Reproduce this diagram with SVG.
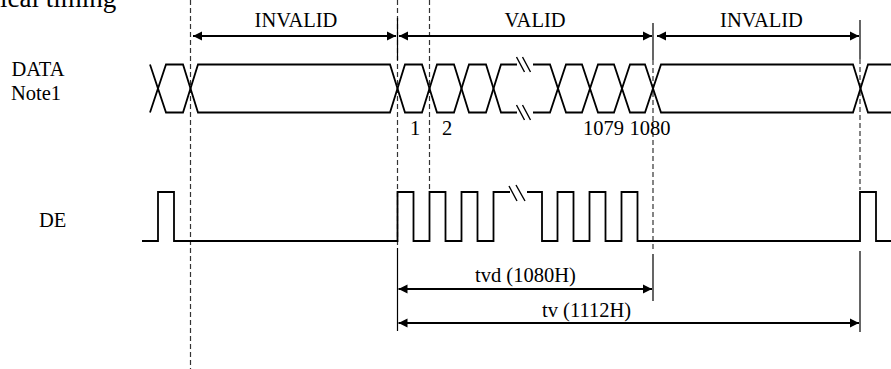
<svg xmlns="http://www.w3.org/2000/svg" width="891" height="369" viewBox="0 0 891 369">
<style>
text{font-family:"Liberation Serif","Times New Roman",serif;fill:#000}
.lbl{font-size:20.5px}
.wave{fill:none;stroke:#000;stroke-width:1.8;stroke-linejoin:miter}
.brk{fill:none;stroke:#000;stroke-width:1.4}
.dash{fill:none;stroke:#333;stroke-width:1.2;stroke-dasharray:5,3}
.tick{fill:none;stroke:#000;stroke-width:1.2}
.dim{fill:none;stroke:#000;stroke-width:2;marker-start:url(#ah);marker-end:url(#ah)}
</style>
<defs>
<marker id="ah" markerUnits="userSpaceOnUse" markerWidth="10" markerHeight="10" viewBox="0 0 10 10" refX="9" refY="5" orient="auto-start-reverse">
<path d="M0,0.5 L9,5 L0,9.5 z" fill="#000"/>
</marker>
</defs>
<rect width="891" height="369" fill="#fff"/>
<g id="title"><text x="0" y="7" style="font-size:27px">ical timing</text></g>
<g id="labels">
<text class="lbl" x="11.5" y="76">DATA</text>
<text class="lbl" x="11" y="100">Note1</text>
<text class="lbl" x="39" y="227">DE</text>
</g>
<g id="guides">
<path class="dash" d="M190.5,0 V369"/>
<path class="dash" d="M397.5,0 V246"/>
<path class="dash" d="M429.5,0 V191"/>
<path class="dash" d="M653,60 V250"/>
<path class="dash" d="M860,59 V190"/>
<path class="tick" d="M397.5,18 V60 M653,23 V60 M860,20 V59"/>
<path class="tick" d="M397.5,248 V331 M653,254 V301 M860,251 V332"/>
</g>
<g id="data-signal">
<path class="wave" d="M150,64.5 L166,112.5 H183 L198,64.5 H390 L405,112.5 H422 L437,64.5 H454 L469,112.5 H486 L501,64.5 H517 M533,64.5 H550 L566,112.5 H582 L598,64.5 H614 L630,112.5 H645 L661,64.5 H853 L868,112.5 H891"/>
<path class="wave" d="M150,112.5 L166,64.5 H183 L198,112.5 H390 L405,64.5 H422 L437,112.5 H454 L469,64.5 H486 L501,112.5 H517 M533,112.5 H550 L566,64.5 H582 L598,112.5 H614 L630,64.5 H645 L661,112.5 H853 L868,64.5 H891"/>
<path class="brk" d="M516.5,57 L524.5,72 M522.5,57 L530.5,72 M516.5,105 L524.5,120 M522.5,105 L530.5,120"/>
<text class="lbl" x="410" y="135">1</text>
<text class="lbl" x="442" y="135">2</text>
<text class="lbl" x="583" y="135">1079</text>
<text class="lbl" x="629.5" y="135">1080</text>
</g>
<g id="de-signal">
<path class="wave" d="M142,241 H158 V192 H174 V241 H397.5 V192 H413.5 V241 H429.5 V192 H445.5 V241 H461.5 V192 H477.5 V241 H493.5 V192 H510 M527,192 H542 V241 H557.5 V192 H573.5 V241 H589.5 V192 H605.5 V241 H621.5 V192 H637.5 V241 H860 V192 H876 V241 H891"/>
<path class="brk" d="M509,186 L517,201 M516,185 L525,201"/>
</g>
<g id="connectors">
<path class="dim" d="M193,36 H396"/>
<path class="dim" d="M399,36 H652"/>
<path class="dim" d="M657,36 H859"/>
<path class="dim" d="M398.5,289 H652"/>
<path class="dim" d="M398.5,323 H859"/>
</g>
<g id="dim-labels">
<text class="lbl" x="296" y="27" text-anchor="middle">INVALID</text>
<text class="lbl" x="535" y="27" text-anchor="middle">VALID</text>
<text class="lbl" x="761.5" y="27" text-anchor="middle">INVALID</text>
<text class="lbl" x="475" y="282">tvd (1080H)</text>
<text class="lbl" x="542" y="317">tv (1112H)</text>
</g>
</svg>
